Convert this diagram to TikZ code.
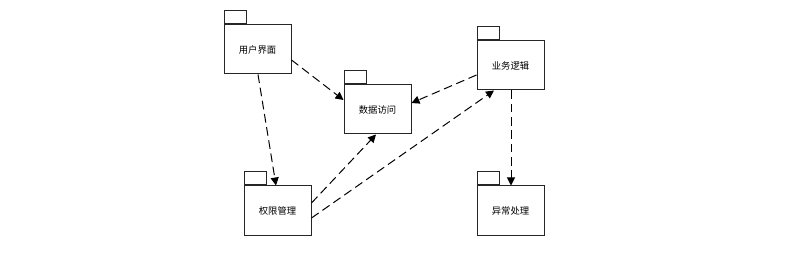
\documentclass[tikz,border=0pt]{standalone}
\usepackage{fontspec}
\setmainfont{Noto Sans CJK SC}
\usetikzlibrary{arrows.meta,calc}
\begin{document}
\begin{tikzpicture}[x=0.75pt,y=-0.75pt,
  pkg/.style={draw=black!85,line width=0.75pt,fill=white,minimum width=50.25pt,minimum height=36.75pt,inner sep=0pt,font=\fontsize{7}{8}\selectfont},
  pkgtab/.style={draw=black!85,line width=0.75pt,fill=white,minimum width=16.5pt,minimum height=10pt,inner sep=0pt,anchor=south west},
  dep/.style={draw=black,line width=0.75pt,dash pattern=on 6.5pt off 3.5pt,-{Triangle[length=6pt,width=6pt]}}]
\useasboundingbox (0,0) rectangle (790,253);
\node[pkg] (u) at (257.5,49.5) {用户界面};
\node[pkgtab] (ut) at (u.north west) {};
\node[pkg] (d) at (377.5,109.5) {数据访问};
\node[pkgtab] (dt) at (d.north west) {};
\node[pkg] (b) at (510.5,65.5) {业务逻辑};
\node[pkgtab] (bt) at (b.north west) {};
\node[pkg] (q) at (277.5,210.5) {权限管理};
\node[pkgtab] (qt) at (q.north west) {};
\node[pkg] (e) at (510.5,210.5) {异常处理};
\node[pkgtab] (et) at (e.north west) {};
\draw[dep] ($(u.east)+(0,10.5)$) -- ($(d.west)+(0,-9.5)$);
\draw[dep] ($(u.south)+(0.5,0)$) -- ($(q.north)+(-1.5,0)$);
\draw[dep] ($(b.west)+(0,9.5)$) -- ($(d.east)+(0,-6.5)$);
\draw[dep] ($(q.east)+(0,-7.5)$) -- ($(d.south)+(-1.5,0)$);
\draw[dep] ($(q.east)+(0,7.5)$) -- ($(b.south)+(-16.5,0)$);
\draw[dep] ($(b.south)+(0.5,0)$) -- ($(e.north)+(0.5,0)$);
\end{tikzpicture}
\end{document}
